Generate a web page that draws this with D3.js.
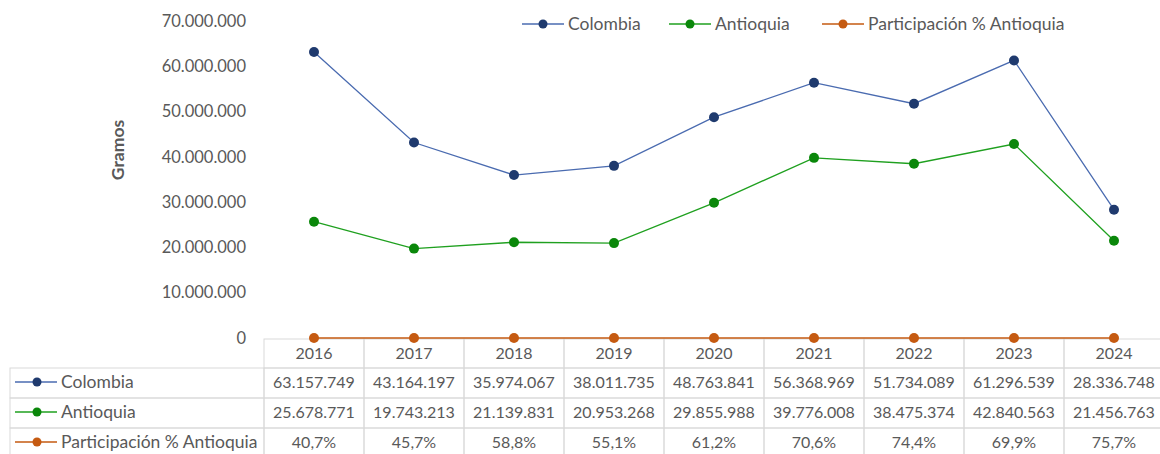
<!DOCTYPE html>
<html>
<head>
<meta charset="UTF-8">
<title>Chart</title>
<script src="https://cdn.jsdelivr.net/npm/d3@7"></script>
<style>
  body { margin: 0; background: #fff; }
  svg { font-family: Lato, "Open Sans", sans-serif; }
</style>
</head>
<body>
<div id="graph-container"></div>
<script>
// Data
const years = ["2016", "2017", "2018", "2019", "2020", "2021", "2022", "2023", "2024"];
const colombia = [63157749, 43164197, 35974067, 38011735, 48763841, 56368969, 51734089, 61296539, 28336748];
const antioquia = [25678771, 19743213, 21139831, 20953268, 29855988, 39776008, 38475374, 42840563, 21456763];
const participacion = [0.407, 0.457, 0.588, 0.551, 0.612, 0.706, 0.744, 0.699, 0.757];
const participacionLabels = ["40,7%", "45,7%", "58,8%", "55,1%", "61,2%", "70,6%", "74,4%", "69,9%", "75,7%"];
const yTicks = [0, 10000000, 20000000, 30000000, 40000000, 50000000, 60000000, 70000000];

const series = [
  { name: "Colombia", values: colombia, line: "#4a6bb0", marker: "#1f3a6e", labels: colombia.map(fmtNum) },
  { name: "Antioquia", values: antioquia, line: "#1fa01f", marker: "#0a870a", labels: antioquia.map(fmtNum) },
  { name: "Participación % Antioquia", values: participacion, line: "#c55a11", marker: "#c55a11", labels: participacionLabels }
];

function fmtNum(v) {
  return d3.format(",d")(v).replace(/,/g, ".");
}

const W = 1160, H = 454;
const svg = d3.select("#graph-container").append("svg")
  .attr("width", W).attr("height", H);

// Scales
const x = d3.scaleBand().domain(years).range([264, 1164]);
const y = d3.scaleLinear().domain([0, 70000000]).range([338, 21]);
const cx = d => x(d) + x.bandwidth() / 2;

const textColor = "#595959";
const gridColor = "#d9d9d9";

// Y axis labels
svg.append("g").selectAll("text")
  .data(yTicks)
  .join("text")
  .attr("x", 246)
  .attr("y", d => y(d))
  .attr("dy", "0.35em")
  .attr("text-anchor", "end")
  .attr("fill", textColor)
  .style("font-size", "16.5px")
  .text(d => d === 0 ? "0" : fmtNum(d));

svg.append("text")
  .attr("transform", `translate(124,150) rotate(-90)`)
  .attr("text-anchor", "middle")
  .attr("fill", textColor)
  .style("font-size", "17.5px")
  .style("font-weight", "bold")
  .text("Gramos");

// Data table
const rowTop = [339, 368, 398, 428];
const rowH = 30;
const table = svg.append("g");

// header cells (years)
years.forEach(yr => {
  table.append("rect")
    .attr("x", x(yr)).attr("y", rowTop[0])
    .attr("width", x.bandwidth()).attr("height", rowTop[1] - rowTop[0])
    .attr("fill", "none").attr("stroke", gridColor);
  table.append("text")
    .attr("x", cx(yr)).attr("y", rowTop[0] + 14)
    .attr("dy", "0.35em")
    .attr("text-anchor", "middle")
    .attr("fill", textColor)
    .style("font-size", "16px")
    .text(yr);
});

series.forEach((s, i) => {
  const top = rowTop[i + 1];
  table.append("rect")
    .attr("x", 10).attr("y", top)
    .attr("width", 254).attr("height", rowH)
    .attr("fill", "none").attr("stroke", gridColor);
  table.append("line")
    .attr("x1", 15).attr("x2", 57)
    .attr("y1", top + 14).attr("y2", top + 14)
    .attr("stroke", s.line).attr("stroke-width", 1.5);
  table.append("circle")
    .attr("cx", 37).attr("cy", top + 14).attr("r", 4.5)
    .attr("fill", s.marker);
  table.append("text")
    .attr("x", 61).attr("y", top + 14)
    .attr("dy", "0.35em")
    .attr("fill", textColor)
    .style("font-size", "17.5px")
    .text(s.name);
  years.forEach((yr, j) => {
    table.append("rect")
      .attr("x", x(yr)).attr("y", top)
      .attr("width", x.bandwidth()).attr("height", rowH)
      .attr("fill", "none").attr("stroke", gridColor);
    table.append("text")
      .attr("x", cx(yr)).attr("y", top + 14)
      .attr("dy", "0.35em")
      .attr("text-anchor", "middle")
      .attr("fill", textColor)
      .style("font-size", "16px")
      .text(s.labels[j]);
  });
});

// Lines and markers
const line = d3.line()
  .x((d, i) => cx(years[i]))
  .y(d => y(d));

series.forEach(s => {
  svg.append("path")
    .datum(s.values)
    .attr("fill", "none")
    .attr("stroke", s.line)
    .attr("stroke-width", 1.3)
    .attr("d", line);
  svg.append("g").selectAll("circle")
    .data(s.values)
    .join("circle")
    .attr("cx", (d, i) => cx(years[i]))
    .attr("cy", d => y(d))
    .attr("r", 5)
    .attr("fill", s.marker);
});

// Legend
const legendX = [522, 669, 822];
series.forEach((s, i) => {
  const g = svg.append("g").attr("transform", `translate(${legendX[i]},24)`);
  g.append("line")
    .attr("x1", 0).attr("x2", 42)
    .attr("stroke", s.line).attr("stroke-width", 1.5);
  g.append("circle")
    .attr("cx", 21).attr("r", 4.5)
    .attr("fill", s.marker);
  g.append("text")
    .attr("x", 46).attr("dy", "0.35em")
    .attr("fill", textColor)
    .style("font-size", "17.5px")
    .text(s.name);
});
</script>
</body>
</html>
